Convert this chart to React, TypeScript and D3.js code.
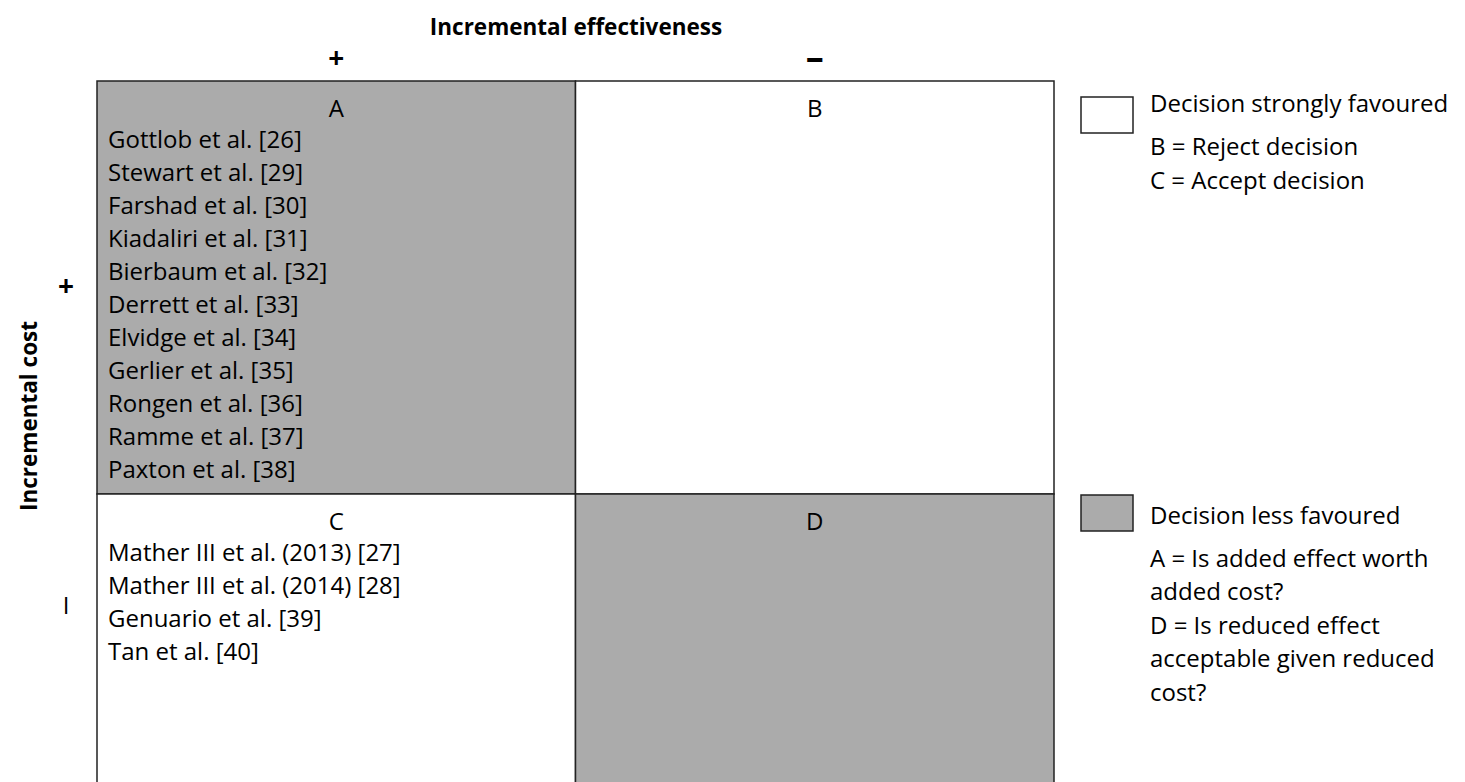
import React from "react";
import * as d3 from "d3";

const title = "Incremental effectiveness";
const yTitle = "Incremental cost";
const colSigns = ["+", "–"];
const rowSigns = ["+", "I"];
const quadrants = [
  { key: "A", col: 0, row: 0, shaded: true, items: ["Gottlob et al. [26]", "Stewart et al. [29]", "Farshad et al. [30]", "Kiadaliri et al. [31]", "Bierbaum et al. [32]", "Derrett et al. [33]", "Elvidge et al. [34]", "Gerlier et al. [35]", "Rongen et al. [36]", "Ramme et al. [37]", "Paxton et al. [38]"] },
  { key: "B", col: 1, row: 0, shaded: false, items: [] as string[] },
  { key: "C", col: 0, row: 1, shaded: false, items: ["Mather III et al. (2013) [27]", "Mather III et al. (2014) [28]", "Genuario et al. [39]", "Tan et al. [40]"] },
  { key: "D", col: 1, row: 1, shaded: true, items: [] as string[] },
];
const legendWhite = ["Decision strongly favoured", "B = Reject decision", "C = Accept decision"];
const legendGray = ["Decision less favoured", "A = Is added effect worth", "added cost?", "D = Is reduced effect", "acceptable given reduced", "cost?"];

const W = 1465, H = 782;
const FONT = "'Open Sans', sans-serif";
const GRAY = "#ababab";
const FS = 24;

export default function App() {
  const x = d3.scaleBand<number>().domain([0, 1]).range([97, 1054]);
  const y = d3.scaleBand<number>().domain([0, 1]).range([81, 907]);
  const lineStep = 33;
  return (
    <svg width={W} height={H} style={{ position: "fixed", left: 0, top: 0, background: "#fff" }} fontFamily={FONT}>
      <text x={576} y={26} textAnchor="middle" dominantBaseline="central" fontWeight="bold" fontSize={22.5}>{title}</text>
      {colSigns.map((s, i) => (
        <text key={"c" + i} x={(x(i) as number) + x.bandwidth() / 2} y={i === 0 ? 57 : 56} textAnchor="middle" dominantBaseline="central" fontWeight="bold" fontSize={i === 0 ? 28 : 36}>{s}</text>
      ))}
      <text transform={`translate(28,416) rotate(-90)`} textAnchor="middle" dominantBaseline="central" fontWeight="bold" fontSize={22.5}>{yTitle}</text>
      <text x={66} y={285} textAnchor="middle" dominantBaseline="central" fontWeight="bold" fontSize={28}>{rowSigns[0]}</text>
      <text x={66} y={604} textAnchor="middle" dominantBaseline="central" fontSize={FS}>{rowSigns[1]}</text>
      {quadrants.map((q) => {
        const x0 = x(q.col) as number, y0 = y(q.row) as number;
        return (
          <g key={q.key}>
            <rect x={x0} y={y0} width={x.bandwidth()} height={y.bandwidth()} fill={q.shaded ? GRAY : "#fff"} stroke="#222" strokeWidth={1.5} />
          </g>
        );
      })}
      {quadrants.map((q) => {
        const x0 = x(q.col) as number, y0 = y(q.row) as number;
        return (
          <g key={q.key + "t"} fontSize={FS}>
            <text x={x0 + x.bandwidth() / 2} y={y0 + 26} textAnchor="middle" dominantBaseline="central">{q.key}</text>
            {q.items.map((t, i) => (
              <text key={t} x={x0 + 11} y={y0 + 57 + i * lineStep} dominantBaseline="central">{t}</text>
            ))}
          </g>
        );
      })}
      <g fontSize={FS}>
        <rect x={1081} y={97} width={52} height={36} fill="#fff" stroke="#222" strokeWidth={1.5} />
        {legendWhite.map((t, i) => (
          <text key={t} x={1150} y={i === 0 ? 102 : 145 + (i - 1) * 34} dominantBaseline="central">{t}</text>
        ))}
        <rect x={1081} y={495} width={52} height={36} fill={GRAY} stroke="#222" strokeWidth={1.5} />
        {legendGray.map((t, i) => (
          <text key={t} x={1150} y={i === 0 ? 514 : 557 + (i - 1) * 33.5} dominantBaseline="central">{t}</text>
        ))}
      </g>
    </svg>
  );
}
